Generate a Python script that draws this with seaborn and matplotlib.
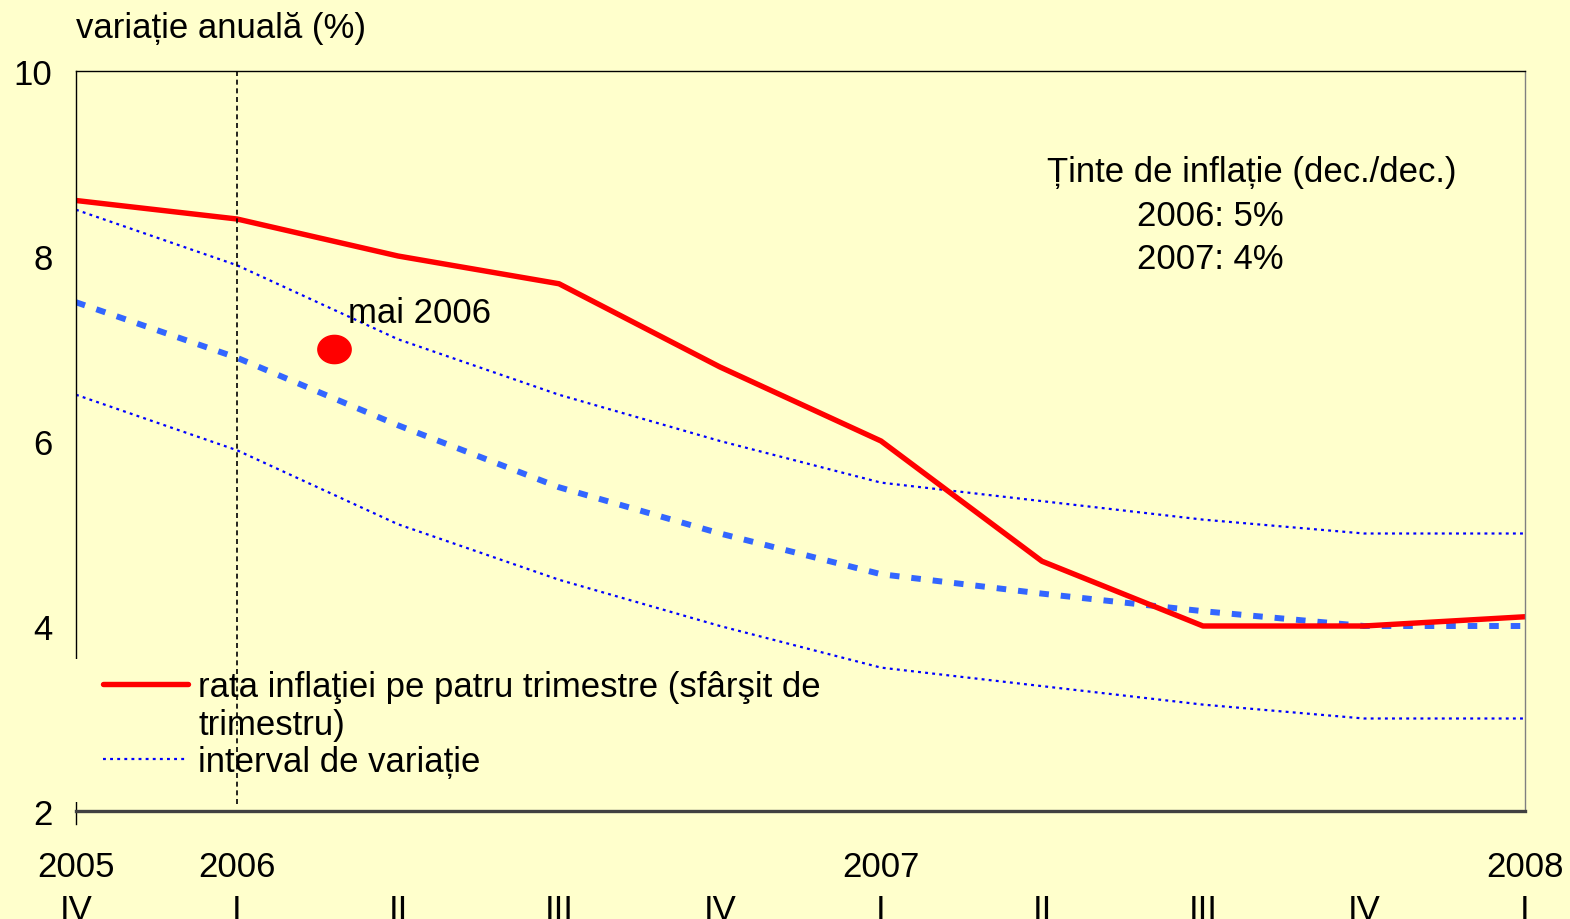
import numpy as np
import matplotlib
matplotlib.use("Agg")
import matplotlib.pyplot as plt
import seaborn as sns
from matplotlib.lines import Line2D
from matplotlib.path import Path
from matplotlib.patches import Rectangle

# ── Data ─────────────────────────────────────────────────────────────────────
quarter_labels = ["2005\nIV", "2006\nI", "\nII", "\nIII", "\nIV",
                  "2007\nI", "\nII", "\nIII", "\nIV", "2008\nI"]
inflation = [8.6, 8.4, 8.0, 7.7, 6.8, 6.0, 4.7, 4.0, 4.0, 4.1]
central   = [7.5, 6.9, 6.17, 5.5, 5.0, 4.56, 4.35, 4.16, 4.0, 4.0]
upper     = [8.5, 7.9, 7.1, 6.5, 6.0, 5.55, 5.35, 5.15, 5.0, 5.0]
lower     = [6.5, 5.9, 5.1, 4.5, 4.0, 3.55, 3.35, 3.15, 3.0, 3.0]
may_2006_x, may_2006_y = 1.6, 7.0
yticks = [2, 4, 6, 8, 10]

BG    = "#FFFFCC"
RED   = "#FF0000"
BLUE  = "#0000FF"
BLUE2 = "#3366FF"
FS    = 25
DOTS  = (0, (1.3, 1.9))

sns.set_theme(style="white")
plt.rcParams["font.family"] = ["Liberation Sans", "DejaVu Sans"]
plt.rcParams["font.size"] = FS
plt.rcParams["text.color"] = "black"
plt.rcParams["xtick.labelcolor"] = "black"
plt.rcParams["ytick.labelcolor"] = "black"

x = np.arange(len(quarter_labels))

fig = plt.figure(figsize=(15.7, 9.2), dpi=100, facecolor=BG)
ax = fig.add_axes([76 / 1570, 1 - 812 / 920, 1449 / 1570, 740 / 920])
ax.set_facecolor(BG)

# band + central projection
sns.lineplot(x=x, y=upper, ax=ax, color=BLUE, lw=1.6, linestyle=DOTS)
sns.lineplot(x=x, y=lower, ax=ax, color=BLUE, lw=1.6, linestyle=DOTS)
sns.lineplot(x=x, y=central, ax=ax, color=BLUE2, lw=4.3, linestyle=(0, (1.6, 2.0)))
sns.lineplot(x=x, y=inflation, ax=ax, color=RED, lw=3.9)

# May 2006 point (slightly oval marker)
t = np.linspace(0, 2 * np.pi, 60)
oval = Path(np.column_stack([1.18 * np.cos(t), np.sin(t)]))
ax.plot([may_2006_x], [may_2006_y], marker=oval, markersize=24, color=RED, ls="none", zorder=6)
ax.text(1.69, 7.39, "mai 2006", fontsize=FS, va="center", ha="left")

# start-of-projection marker
ax.vlines(1, 2.08, 10, colors="black", lw=1.2, linestyles=(0, (3, 2.2)), zorder=7)

# targets
ax.text(6.03, 8.91, "Ținte de inflație (dec./dec.)", fontsize=FS, va="center", ha="left")
ax.text(6.59, 8.44, "2006: 5%", fontsize=FS, va="center", ha="left")
ax.text(6.59, 7.97, "2007: 4%", fontsize=FS, va="center", ha="left")

ax.set_xlim(0, 9)
ax.set_ylim(2, 10)
ax.set_yticks(yticks)
ax.set_yticklabels([str(v) for v in yticks])
ax.set_xticks(x)
ax.set_xticklabels(quarter_labels, linespacing=1.4)
ax.tick_params(axis="x", length=0, pad=28, labelsize=FS)
ax.tick_params(axis="y", length=7, width=1, color="#808080", direction="out", pad=10, labelsize=FS)
ax.set_xlabel("")
ax.set_ylabel("")

for side in ["top", "right", "left", "bottom"]:
    ax.spines[side].set_visible(True)
ax.spines["top"].set_color("black")
ax.spines["top"].set_linewidth(1)
ax.spines["right"].set_color("#808080")
ax.spines["right"].set_linewidth(1)
ax.spines["left"].set_color("black")
ax.spines["left"].set_linewidth(1)
ax.spines["left"].set_bounds(1.86, 10)
ax.spines["bottom"].set_color("#404040")
ax.spines["bottom"].set_linewidth(2.4)

# legend box hides part of the left axis line
ax.add_patch(Rectangle((-0.006, (812 - 803) / 740), 0.012, (803 - 660) / 740,
                       transform=ax.transAxes, facecolor=BG, edgecolor="none",
                       zorder=3, clip_on=False))

handles = [Line2D([], [], color=RED, lw=3.9),
           Line2D([], [], color="none"),
           Line2D([], [], color=BLUE, lw=1.6, linestyle=DOTS)]
labels = ["rata inflaţiei pe patru trimestre (sfârşit de",
          "trimestru)",
          "interval de variație"]
ax.legend(handles, labels, loc="upper left", bbox_to_anchor=(27 / 1449, 0.19),
          frameon=False, borderpad=0, borderaxespad=0, handlelength=2.45,
          handletextpad=0.3, labelspacing=0.12, fontsize=FS)

ax.text(0, 1.059, "variație anuală (%)", transform=ax.transAxes,
        fontsize=FS, va="center", ha="left")

fig.savefig("out.png", dpi=100, facecolor=BG)
